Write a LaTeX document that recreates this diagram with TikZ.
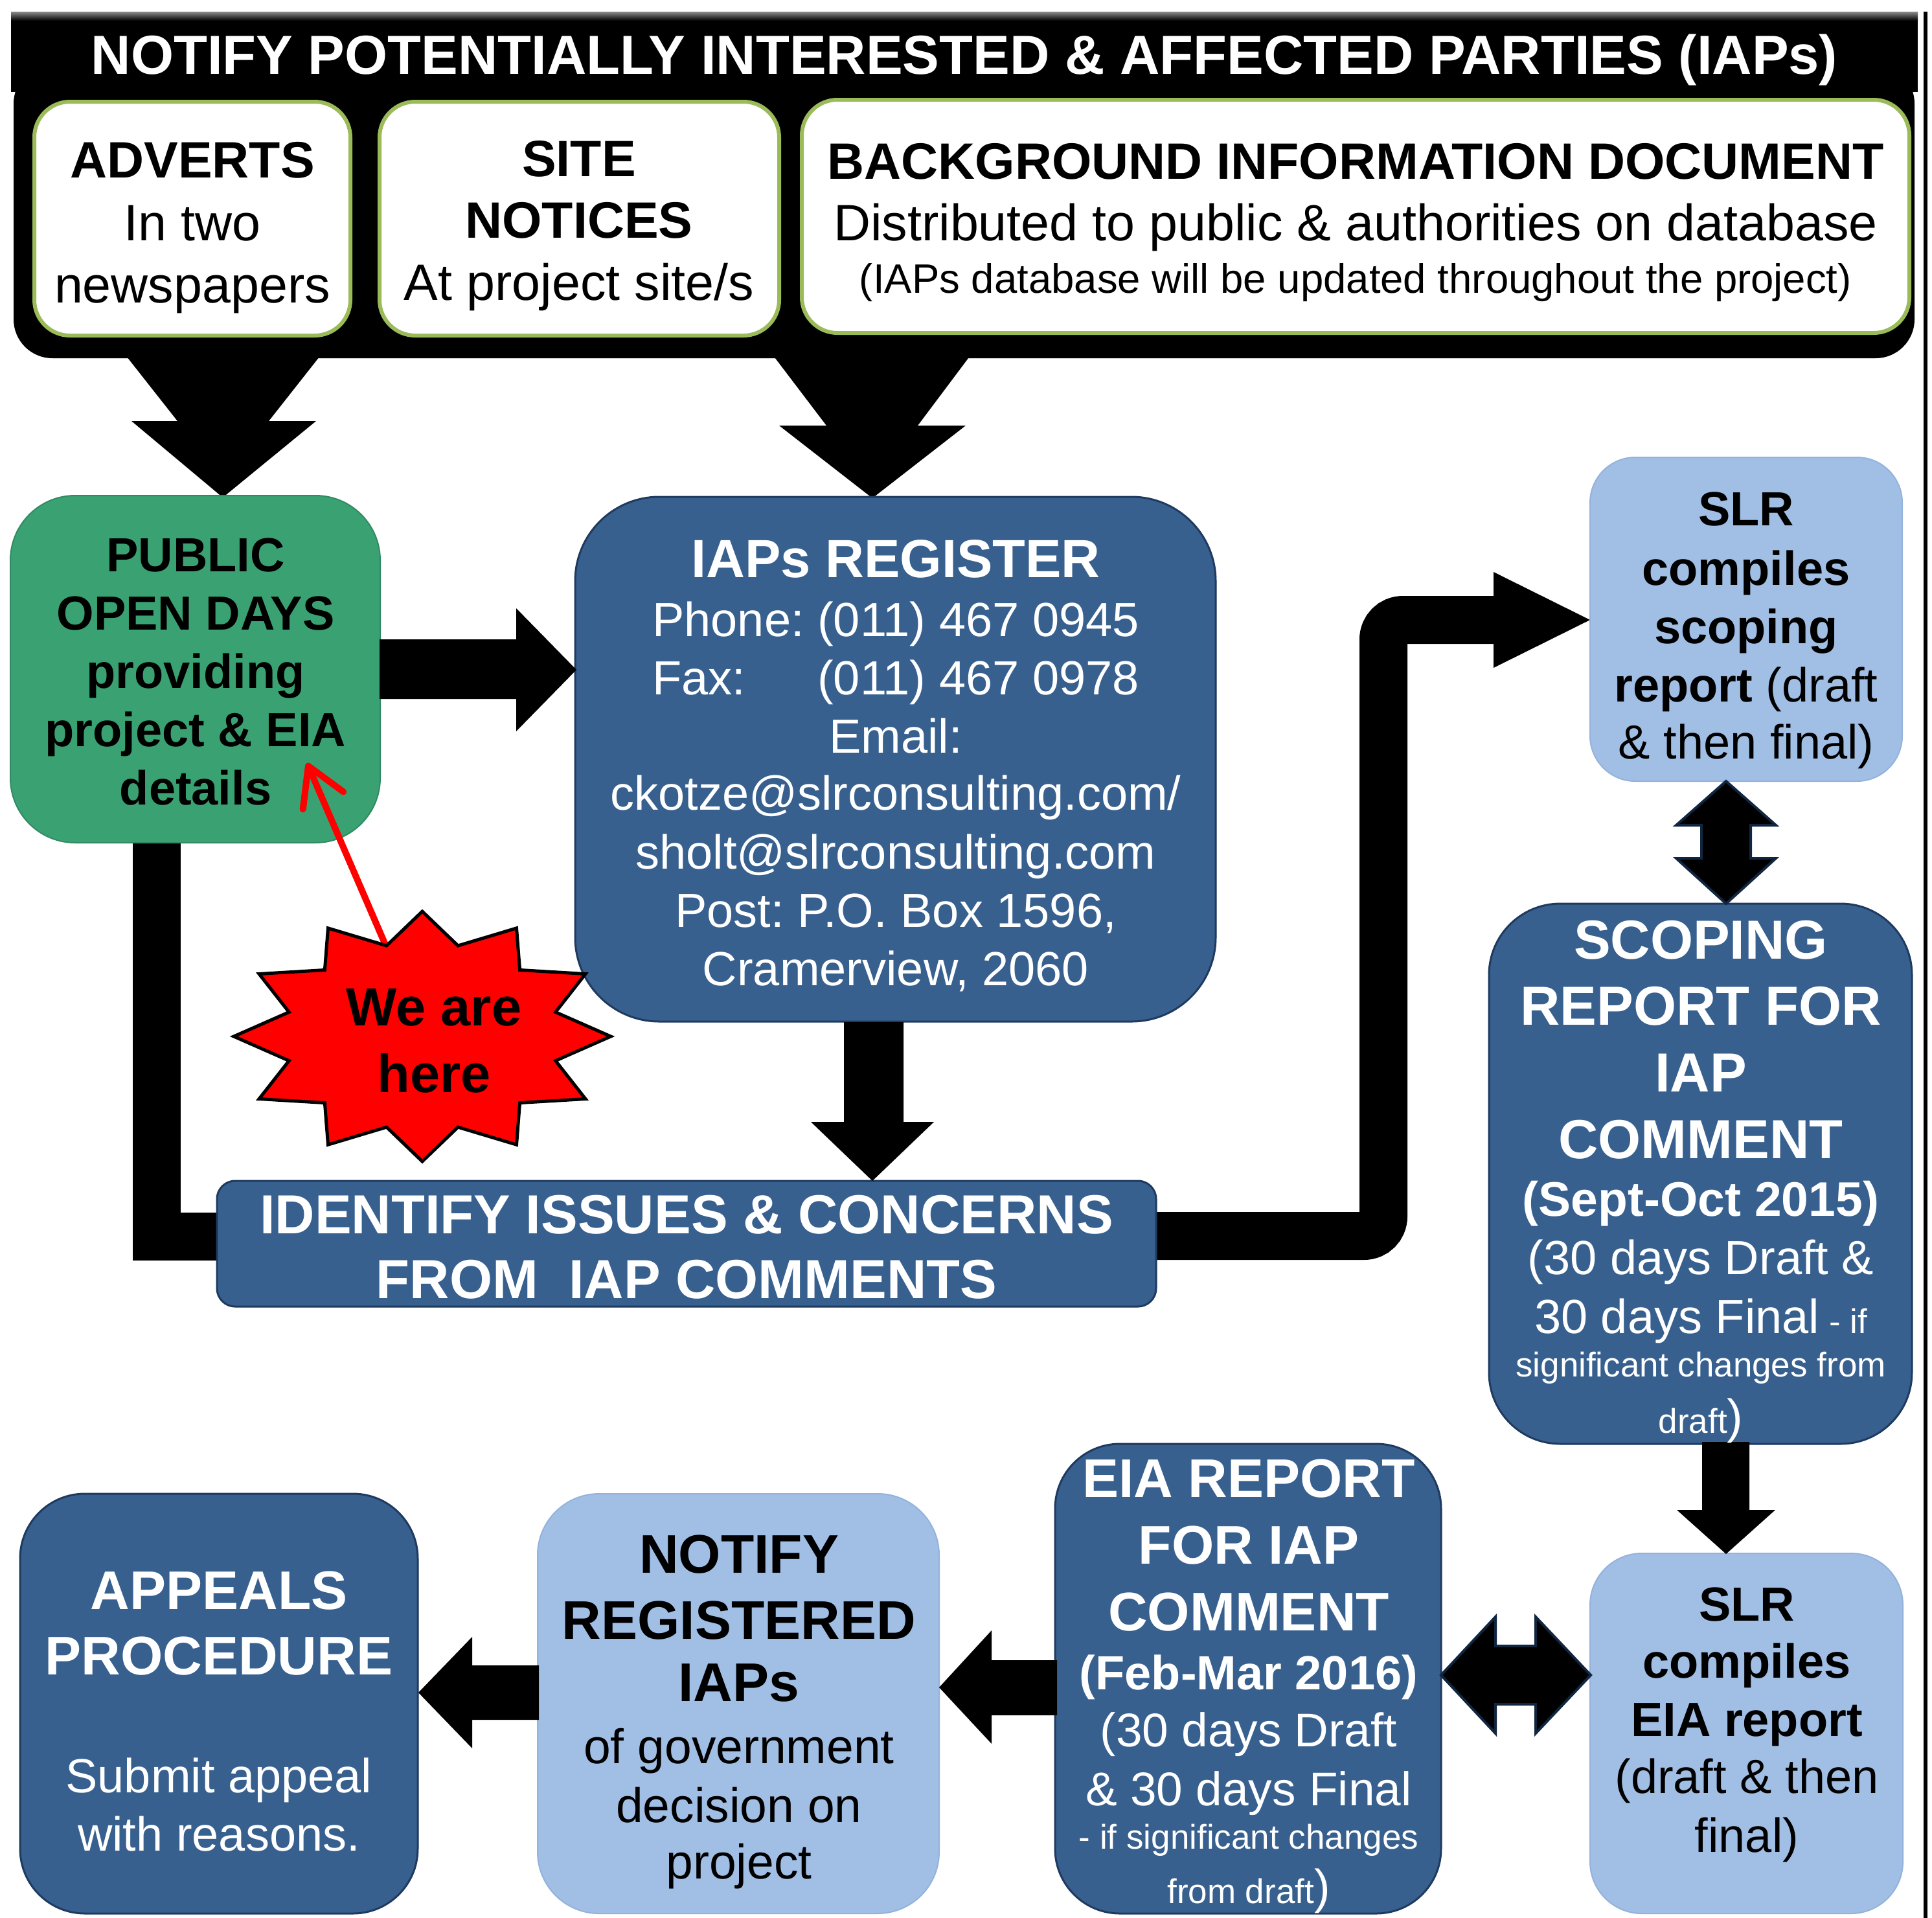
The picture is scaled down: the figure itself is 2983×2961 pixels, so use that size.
\documentclass[tikz,border=0pt]{standalone}
\usepackage{fontspec}
\setmainfont{Liberation Sans}
\usetikzlibrary{arrows.meta}
\definecolor{dblue}{HTML}{37608F}
\definecolor{dblueedge}{HTML}{1F3A5F}
\definecolor{lblue}{HTML}{A1BEE4}
\definecolor{lblueedge}{HTML}{93B2DC}
\definecolor{pgreen}{HTML}{3AA272}
\definecolor{olivegreen}{HTML}{9BBB59}
\definecolor{navy}{HTML}{10253F}
\newcommand\fs[1]{\fontsize{#1}{#1}\selectfont}
\begin{document}
\frenchspacing
\begin{tikzpicture}[x=1pt,y=-1pt,
  wbox/.style={rectangle, draw=olivegreen, line width=6, fill=white, rounded corners=55, inner sep=0},
  dbox/.style={rectangle, draw=dblueedge, line width=3, fill=dblue, inner sep=0},
  lbox/.style={rectangle, draw=lblueedge, line width=2, fill=lblue, inner sep=0},
  gbox/.style={rectangle, draw=pgreen!85!black, line width=2, fill=pgreen, inner sep=0},
  blk/.style={fill=black},
  dbl/.style={fill=black, draw=navy, line width=4, line join=miter},
  tl/.style={anchor=base, inner sep=0, outer sep=0, text=black},
  tw/.style={tl, text=white}]
\useasboundingbox (0,0) rectangle (2983,2961);

% ---------- top panel ----------
\node[rectangle, fill=black, rounded corners=60, minimum width=2935, minimum height=453, inner sep=0] (panel) at (1488.5,326.5) {};
\node[rectangle, fill=black, minimum width=2944, minimum height=124, inner sep=0] (ttl) at (1489,80) {};
\shade[top color=black!45, bottom color=black] (17,18) rectangle (2961,32);
\draw[line width=6] (2973,18) -- (2973,2961);

\node[wbox, minimum width=488, minimum height=361] (adv) at (297,337.5) {};
\node[wbox, minimum width=617, minimum height=361] (site) at (894.5,337.5) {};
\node[wbox, minimum width=1710, minimum height=360] (bid) at (2093,334) {};

% ---------- block arrows from panel ----------
\fill[blk] (196,551) -- (493,551) -- (415,650) -- (488,650) -- (344,768) -- (203,650) -- (274,650) -- cycle;
\fill[blk] (1197,553) -- (1495,553) -- (1417,657) -- (1491,657) -- (1347,769) -- (1203,657) -- (1276,657) -- cycle;

% ---------- thick connectors (under boxes) ----------
\draw[line width=74, line join=miter] (242,1295) -- (242,1909) -- (345,1909);
\draw[line width=74, rounded corners=30] (1775,1908) -- (2136,1908) -- (2136,957) -- (2310,957);
\fill[blk] (2306,883) -- (2455,957) -- (2306,1031) -- cycle;

% ---------- boxes ----------
\node[gbox, rounded corners=100, minimum width=571, minimum height=536] (pub) at (301.5,1033) {};
\node[dbox, rounded corners=130, minimum width=989, minimum height=810] (reg) at (1382.5,1172) {};
\node[dbox, rounded corners=28, minimum width=1450, minimum height=194] (idn) at (1060,1920) {};
\node[lbox, rounded corners=70, minimum width=482, minimum height=500] (slrA) at (2696,956) {};
\node[dbox, rounded corners=110, minimum width=653, minimum height=834] (scop) at (2625.5,1812) {};
\node[lbox, rounded corners=80, minimum width=483, minimum height=556] (slrB) at (2696.5,2676) {};
\node[dbox, rounded corners=100, minimum width=596, minimum height=725] (eia) at (1927,2591.5) {};
\node[lbox, rounded corners=95, minimum width=620, minimum height=648] (ntf) at (1140,2630) {};
\node[dbox, rounded corners=100, minimum width=614, minimum height=648] (app) at (338,2630) {};

% ---------- block arrows between boxes ----------
\fill[blk] (586,987) -- (797,987) -- (797,939) -- (890,1034) -- (797,1129) -- (797,1079) -- (586,1079) -- cycle;
\fill[blk] (1303,1578) -- (1395,1578) -- (1395,1732) -- (1442,1732) -- (1347,1823) -- (1252,1732) -- (1303,1732) -- cycle;
\draw[dbl] (2665,1206) -- (2742,1274) -- (2703,1274) -- (2703,1325) -- (2742,1325) -- (2665,1395) -- (2588,1325) -- (2627,1325) -- (2627,1274) -- (2588,1274) -- cycle;
\fill[blk] (2628,2226) -- (2701,2226) -- (2701,2331) -- (2741,2331) -- (2665,2399) -- (2589,2331) -- (2628,2331) -- cycle;
\draw[dbl] (2225,2586) -- (2309,2496) -- (2309,2541) -- (2371,2541) -- (2371,2496) -- (2456,2586) -- (2371,2676) -- (2371,2631) -- (2309,2631) -- (2309,2676) -- cycle;
\fill[blk] (1632,2563) -- (1531,2563) -- (1531,2517) -- (1450,2605) -- (1531,2692) -- (1531,2648) -- (1632,2648) -- cycle;
\fill[blk] (832,2571) -- (729,2571) -- (729,2527) -- (646,2613) -- (729,2699) -- (729,2655) -- (832,2655) -- cycle;

% ---------- "We are here" star and red pointer ----------
\coordinate (startail) at (600,1470);
\coordinate (here) at (474,1178);
\draw[red, line width=10, line cap=round, -{Straight Barb[length=58,width=68,round]}] (startail) -- (here);
\draw[fill=red, draw=black, line width=5, line join=miter]
  (943,1600) \foreach \i in {1,...,23} {
    -- ({652+ifthenelse(isodd(\i),213,291)*cos(\i*15)}, {1600-ifthenelse(isodd(\i),145,193)*sin(\i*15)}) } -- cycle;

% ---------- texts ----------
\node[tw, font=\fs{85}\bfseries] (ttlT) at (1489,114) {NOTIFY POTENTIALLY INTERESTED \& AFFECTED PARTIES (IAPs)};

\node[tl, font=\fs{79}\bfseries] (adv1) at (297,274) {ADVERTS};
\node[tl, font=\fs{79}] (adv2) at (297,371) {In two};
\node[tl, font=\fs{79}] (adv3) at (297,467) {newspapers};

\node[tl, font=\fs{79}\bfseries] (site1) at (894,272) {SITE};
\node[tl, font=\fs{79}\bfseries] (site2) at (894,367) {NOTICES};
\node[tl, font=\fs{79}] (site3) at (894,463) {At project site/s};

\node[tl, font=\fs{79}\bfseries] (bid1) at (2093,276) {BACKGROUND INFORMATION DOCUMENT};
\node[tl, font=\fs{79}] (bid2) at (2093,371) {Distributed to public \& authorities on database};
\node[tl, font=\fs{63.5}] (bid3) at (2093,452) {(IAPs database will be updated throughout the project)};

\node[tl, font=\fs{74}\bfseries] (pub1) at (302,882) {PUBLIC};
\node[tl, font=\fs{74}\bfseries] (pub2) at (302,972) {OPEN DAYS};
\node[tl, font=\fs{74}\bfseries] (pub3) at (302,1062) {providing};
\node[tl, font=\fs{74}\bfseries] (pub4) at (302,1152) {project \& EIA};
\node[tl, font=\fs{74}\bfseries] (pub5) at (302,1242) {details};

\node[tw, font=\fs{83}\bfseries] (reg1) at (1383,891) {IAPs REGISTER};
\node[tw, font=\fs{74}] (reg2) at (1383,982) {Phone: (011) 467 0945};
\node[tw, font=\fs{74}] (reg3) at (1383,1072) {\rlap{Fax:}\phantom{Phone: }(011) 467 0978};
\node[tw, font=\fs{74}] (reg4) at (1383,1162) {Email:};
\node[tw, font=\fs{74}] (reg5) at (1383,1250) {ckotze@slrconsulting.com/};
\node[tw, font=\fs{74}] (reg6) at (1383,1341) {sholt@slrconsulting.com};
\node[tw, font=\fs{74}] (reg7) at (1383,1431) {Post: P.O. Box 1596,};
\node[tw, font=\fs{74}] (reg8) at (1383,1521) {Cramerview, 2060};

\node[tl, font=\fs{83}\bfseries] (star1) at (670,1583) {We are};
\node[tl, font=\fs{83}\bfseries] (star2) at (670,1686) {here};

\node[tw, font=\fs{85}\bfseries] (idn1) at (1060,1904) {IDENTIFY ISSUES \& CONCERNS};
\node[tw, font=\fs{85}\bfseries] (idn2) at (1060,2004) {FROM~~IAP COMMENTS};

\node[tl, font=\fs{74}\bfseries] (sa1) at (2696,811) {SLR};
\node[tl, font=\fs{74}\bfseries] (sa2) at (2696,903) {compiles};
\node[tl, font=\fs{74}\bfseries] (sa3) at (2696,993) {scoping};
\node[tl, font=\fs{74}] (sa4) at (2696,1083) {\textbf{report} (draft};
\node[tl, font=\fs{74}] (sa5) at (2696,1171) {\& then final)};

\node[tw, font=\fs{85}\bfseries] (sc1) at (2626,1480) {SCOPING};
\node[tw, font=\fs{85}\bfseries] (sc2) at (2626,1582) {REPORT FOR};
\node[tw, font=\fs{85}\bfseries] (sc3) at (2626,1685) {IAP};
\node[tw, font=\fs{85}\bfseries] (sc4) at (2626,1788) {COMMENT};
\node[tw, font=\fs{75}\bfseries] (sc5) at (2626,1877) {(Sept-Oct 2015)};
\node[tw, font=\fs{74}] (sc6) at (2626,1967) {(30 days Draft \&};
\node[tw, font=\fs{74}] (sc7) at (2626,2058) {30 days Final{\fs{53} - if}};
\node[tw, font=\fs{53}] (sc8) at (2626,2125) {significant changes from};
\node[tw, font=\fs{74}] (sc9) at (2626,2212) {{\fs{53}draft})};

\node[tl, font=\fs{74}\bfseries] (sb1) at (2697,2502) {SLR};
\node[tl, font=\fs{74}\bfseries] (sb2) at (2697,2590) {compiles};
\node[tl, font=\fs{74}\bfseries] (sb3) at (2697,2680) {EIA report};
\node[tl, font=\fs{74}] (sb4) at (2697,2768) {(draft \& then};
\node[tl, font=\fs{74}] (sb5) at (2697,2859) {final)};

\node[tw, font=\fs{84}\bfseries] (e1) at (1928,2311) {EIA REPORT};
\node[tw, font=\fs{84}\bfseries] (e2) at (1928,2414) {FOR IAP};
\node[tw, font=\fs{84}\bfseries] (e3) at (1928,2517) {COMMENT};
\node[tw, font=\fs{74}\bfseries] (e4) at (1928,2608) {(Feb-Mar 2016)};
\node[tw, font=\fs{73}] (e5) at (1928,2696) {(30 days Draft};
\node[tw, font=\fs{73}] (e6) at (1928,2787) {\& 30 days Final};
\node[tw, font=\fs{53}] (e7) at (1928,2854) {- if significant changes};
\node[tw, font=\fs{74}] (e8) at (1928,2938) {{\fs{53}from draft})};

\node[tl, font=\fs{84}\bfseries] (n1) at (1141,2428) {NOTIFY};
\node[tl, font=\fs{84}\bfseries] (n2) at (1141,2530) {REGISTERED};
\node[tl, font=\fs{84}\bfseries] (n3) at (1141,2626) {IAPs};
\node[tl, font=\fs{75}] (n4) at (1141,2722) {of government};
\node[tl, font=\fs{75}] (n5) at (1141,2813) {decision on};
\node[tl, font=\fs{75}] (n6) at (1141,2900) {project};

\node[tw, font=\fs{84}\bfseries] (a1) at (338,2484) {APPEALS};
\node[tw, font=\fs{84}\bfseries] (a2) at (338,2585) {PROCEDURE};
\node[tw, font=\fs{74}] (a3) at (338,2767) {Submit appeal};
\node[tw, font=\fs{74}] (a4) at (338,2857) {with reasons.};
\end{tikzpicture}
\end{document}
